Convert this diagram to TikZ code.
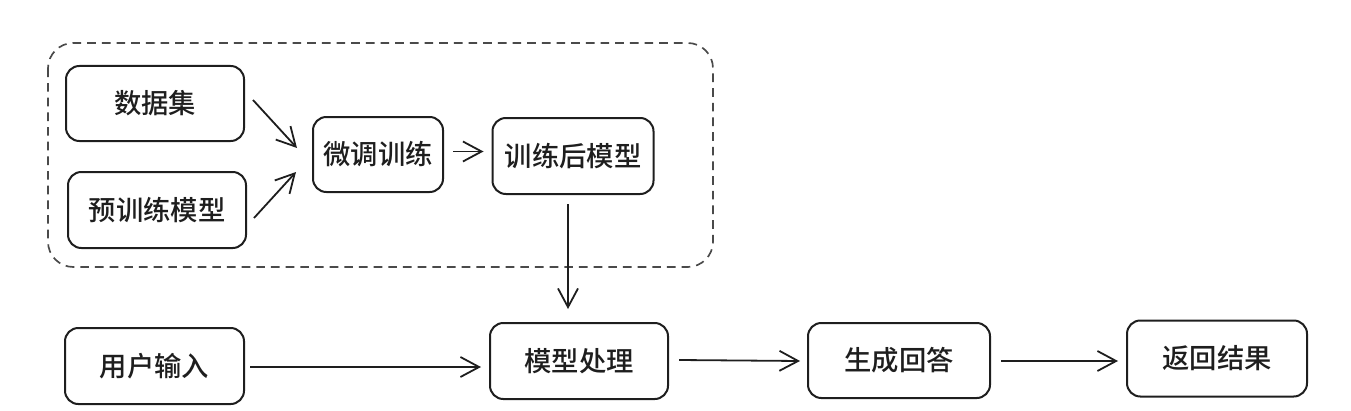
\documentclass[tikz,border=0pt]{standalone}
\usepackage{fontspec}
\setmainfont{Noto Sans CJK SC}[UprightFont={* Medium}]
\usetikzlibrary{arrows.meta,calc}
\definecolor{ink}{HTML}{1E1E1E}
\definecolor{grpc}{HTML}{4A4A4A}
\begin{document}
\begin{tikzpicture}[x=0.75pt,y=-0.75pt,
  box/.style={draw=ink, line width=1.5pt, rounded corners=10pt, inner sep=0pt,
    font=\fontsize{20.5}{24}\selectfont, text=ink},
  arr/.style={draw=ink, line width=1.35pt,
    -{Straight Barb[length=14pt,width=15pt,line width=1.35pt]}},
  grp/.style={draw=grpc, line width=1.25pt, dash pattern=on 6.5pt off 4.5pt, rounded corners=19pt}]
\useasboundingbox (0,0) rectangle (1351,410);
\draw[grp] (48,43) rectangle (713,267);

\node[box, minimum width=133.5pt, minimum height=56.25pt] (ds)  at (155,103.5) {数据集};
\node[box, minimum width=133.5pt, minimum height=57pt]    (pre) at (157,210)   {预训练模型};
\node[box, minimum width=97.5pt,  minimum height=56.25pt] (ft)  at (378,154.5) {微调训练};
\node[box, minimum width=120.75pt,minimum height=57pt]    (tm)  at (573,156)   {训练后模型};
\node[box, minimum width=133.5pt, minimum height=57pt]    (mp)  at (579,361)   {模型处理};
\node[box, minimum width=134.25pt,minimum height=57pt]    (ui)  at (154.5,366) {用户输入};
\node[box, minimum width=136.5pt, minimum height=56.25pt] (gen) at (899,360.5) {生成回答};
\node[box, minimum width=135pt,   minimum height=57pt]    (ret) at (1217,358.5){返回结果};

\draw[arr] ($(ds.east)+(8,-3.5)$) -- ($(ft.west)+(-15,-6.5)$);
\draw[arr] ($(pre.east)+(7,8)$) -- ($(ft.west)+(-16,17.5)$);
\draw[arr] ($(ft.east)+(9,-3)$) -- ($(tm.west)+(-8,-4.5)$);
\draw[arr] ($(tm.south)+(-5,9)$) -- ($(mp.north)+(-11,-13)$);
\draw[arr, line width=1.9pt] ($(ui.east)+(5,1)$) -- ($(mp.west)+(-8,6)$);
\draw[arr] ($(mp.east)+(10,-1)$) -- ($(gen.west)+(-7,0.5)$);
\draw[arr] ($(gen.east)+(10,0.5)$) -- ($(ret.west)+(-8,2.5)$);
\end{tikzpicture}
\end{document}
